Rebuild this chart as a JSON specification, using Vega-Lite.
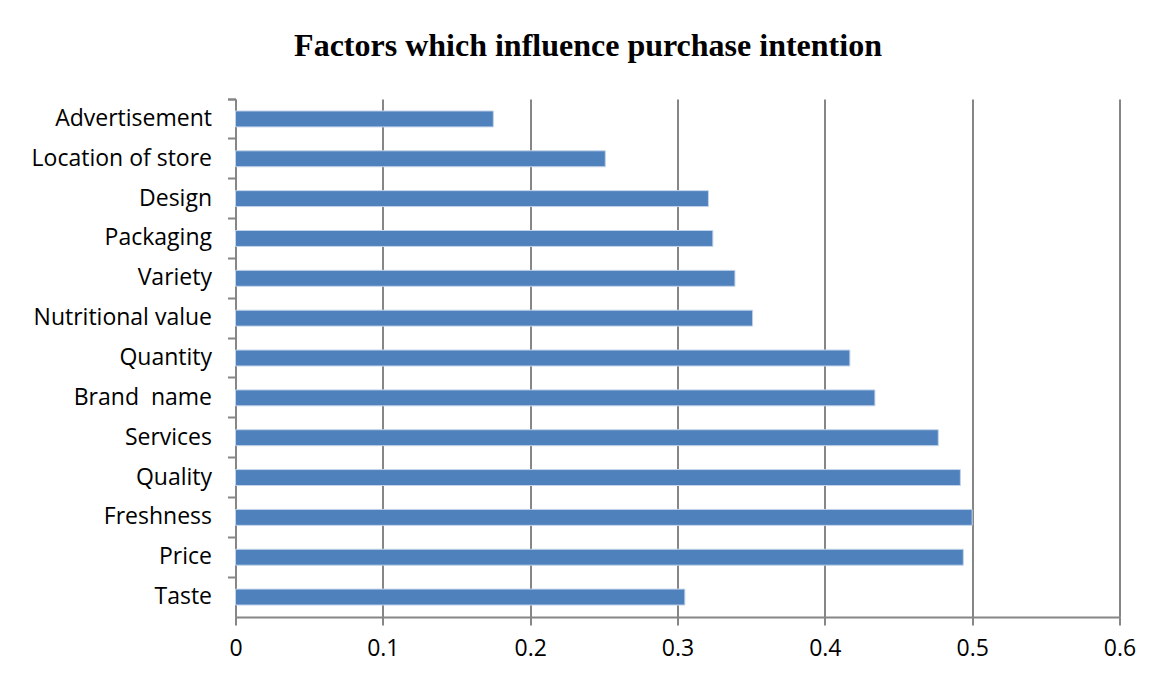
{
  "$schema": "https://vega.github.io/schema/vega-lite/v6.json",
  "autosize": {"type": "none"},
  "padding": {"left": 235.5, "top": 99, "right": 38.5, "bottom": 63},
  "width": 884,
  "height": 518,
  "background": "#ffffff",
  "title": {
    "text": "Factors which influence purchase intention",
    "font": "Liberation Serif",
    "fontSize": 32,
    "fontWeight": "bold",
    "color": "#000000",
    "anchor": "middle",
    "baseline": "alphabetic",
    "offset": 0,
    "dx": -89.5
  },
  "data": {
    "values": [
      {"factor": "Advertisement", "value": 0.175},
      {"factor": "Location of store", "value": 0.251},
      {"factor": "Design", "value": 0.321},
      {"factor": "Packaging", "value": 0.324},
      {"factor": "Variety", "value": 0.339},
      {"factor": "Nutritional value", "value": 0.351},
      {"factor": "Quantity", "value": 0.417},
      {"factor": "Brand \u00a0name", "value": 0.434},
      {"factor": "Services", "value": 0.477},
      {"factor": "Quality", "value": 0.492},
      {"factor": "Freshness", "value": 0.5},
      {"factor": "Price", "value": 0.494},
      {"factor": "Taste", "value": 0.305}
    ]
  },
  "mark": {"type": "bar", "height": {"band": 0.4}, "color": "#4F81BD", "stroke": "#c3d4ea", "strokeWidth": 1},
  "encoding": {
    "y": {
      "field": "factor",
      "type": "nominal",
      "sort": ["Advertisement", "Location of store", "Design", "Packaging", "Variety", "Nutritional value", "Quantity", "Brand \u00a0name", "Services", "Quality", "Freshness", "Price", "Taste"],
      "scale": {"paddingInner": 0, "paddingOuter": 0},
      "axis": {
        "title": null,
        "bandPosition": 0,
        "tickExtra": true,
        "tickSize": 8,
        "tickColor": "#868686",
        "tickWidth": 2,
        "domainColor": "#868686",
        "domainWidth": 2,
        "labelFont": "Open Sans",
        "labelFontSize": 23,
        "labelColor": "#000000",
        "labelPadding": 16,
        "labelLimit": 400,
        "grid": false
      }
    },
    "x": {
      "field": "value",
      "type": "quantitative",
      "scale": {"domain": [0, 0.6], "nice": false},
      "axis": {
        "title": null,
        "values": [0, 0.1, 0.2, 0.3, 0.4, 0.5, 0.6],
        "format": "~g",
        "grid": true,
        "gridColor": "#868686",
        "gridWidth": 2,
        "tickSize": 8,
        "tickColor": "#868686",
        "tickWidth": 2,
        "domainColor": "#868686",
        "domainWidth": 2,
        "labelFont": "Open Sans",
        "labelFontSize": 23,
        "labelColor": "#000000",
        "labelPadding": 12,
        "labelFlush": false
      }
    }
  },
  "config": {"view": {"stroke": null}}
}
